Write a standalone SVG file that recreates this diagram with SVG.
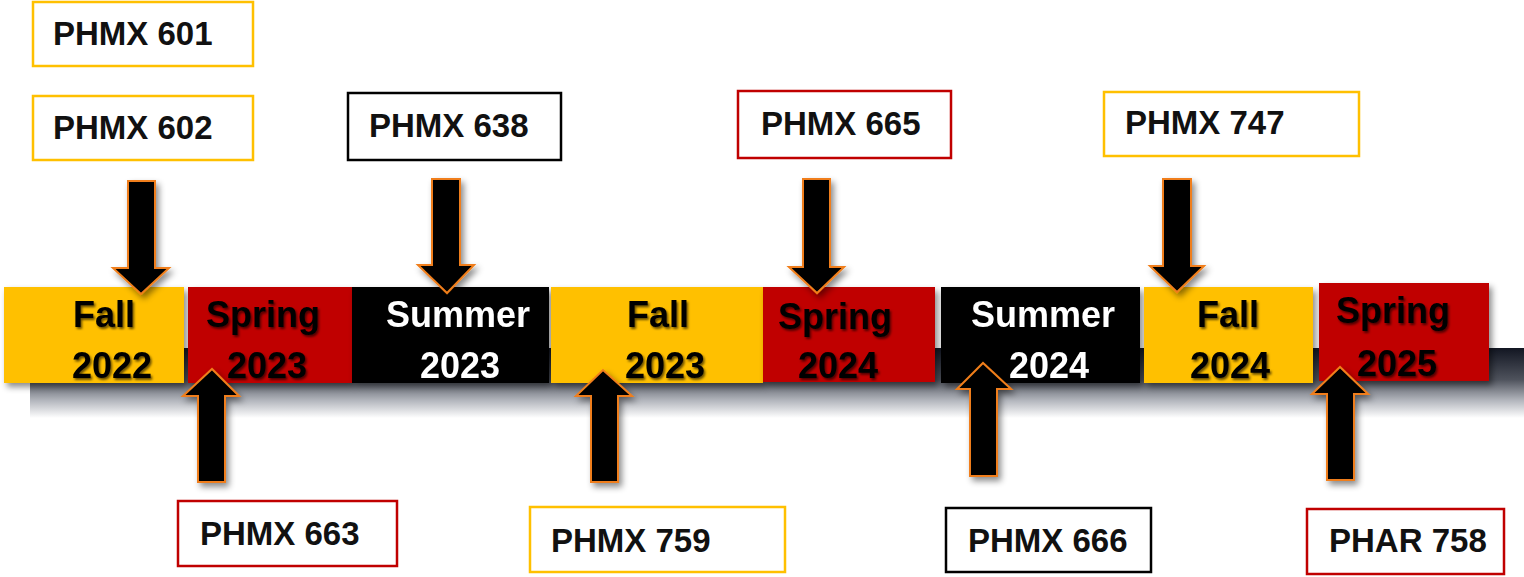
<svg xmlns="http://www.w3.org/2000/svg" width="1524" height="577" viewBox="0 0 1524 577">
<defs>
  <linearGradient id="band" x1="0" y1="0" x2="0" y2="1">
    <stop offset="0" stop-color="#121622"/>
    <stop offset="0.45" stop-color="#4e525c"/>
    <stop offset="0.75" stop-color="#b3b6bd"/>
    <stop offset="1" stop-color="#ffffff"/>
  </linearGradient>
  <filter id="sh" x="-20%" y="-20%" width="150%" height="150%">
    <feDropShadow dx="3" dy="4" stdDeviation="3" flood-color="#000" flood-opacity="0.45"/>
  </filter>
  <filter id="tsh" x="-10%" y="-10%" width="130%" height="140%">
    <feDropShadow dx="1.5" dy="2" stdDeviation="1.2" flood-color="#000" flood-opacity="0.6"/>
  </filter>
  <style>
    .lbl{font-family:"Liberation Sans",Arial,sans-serif;font-weight:bold;font-size:33px;fill:#111}
    .box{fill:#fff;stroke-width:2.5}
    .gold{stroke:#FFC000}
    .red{stroke:#C00000}
    .blk{stroke:#000}
    .season{font-family:"Liberation Sans",Arial,sans-serif;font-weight:bold;font-size:36px;text-anchor:middle}
    .dk{fill:#000}
    .wh{fill:#fff}
    .arrow{fill:#000;stroke:#F07E1A;stroke-width:2;stroke-linejoin:miter}
  </style>
</defs>
<rect x="0" y="0" width="1524" height="577" fill="#fff"/>
<rect x="30" y="348" width="1494" height="70" fill="url(#band)"/>

<g id="seasons">
  <g id="fall2022" filter="url(#sh)">
    <rect x="4" y="287" width="180" height="96" fill="#FFC000"/>
    <g filter="url(#tsh)"><text class="season dk" x="104" y="327">Fall</text><text class="season dk" x="112" y="378">2022</text></g>
  </g>
  <g id="spring2023" filter="url(#sh)">
    <rect x="188" y="287" width="164" height="96" fill="#C00000"/>
    <g filter="url(#tsh)"><text class="season dk" x="263" y="327">Spring</text><text class="season dk" x="267" y="378">2023</text></g>
  </g>
  <g id="summer2023" filter="url(#sh)">
    <rect x="352" y="287" width="197" height="96" fill="#000"/>
    <text class="season wh" x="458" y="327">Summer</text><text class="season wh" x="460" y="378">2023</text>
  </g>
  <g id="fall2023" filter="url(#sh)">
    <rect x="551" y="287" width="212" height="96" fill="#FFC000"/>
    <g filter="url(#tsh)"><text class="season dk" x="658" y="327">Fall</text><text class="season dk" x="665" y="378">2023</text></g>
  </g>
  <g id="spring2024" filter="url(#sh)">
    <rect x="763" y="287" width="172" height="95" fill="#C00000"/>
    <g filter="url(#tsh)"><text class="season dk" x="835" y="329">Spring</text><text class="season dk" x="838" y="378">2024</text></g>
  </g>
  <g id="summer2024" filter="url(#sh)">
    <rect x="941" y="287" width="199" height="96" fill="#000"/>
    <text class="season wh" x="1043" y="327">Summer</text><text class="season wh" x="1049" y="378">2024</text>
  </g>
  <g id="fall2024" filter="url(#sh)">
    <rect x="1144" y="287" width="169" height="96" fill="#FFC000"/>
    <g filter="url(#tsh)"><text class="season dk" x="1228" y="327">Fall</text><text class="season dk" x="1230" y="378">2024</text></g>
  </g>
  <g id="spring2025" filter="url(#sh)">
    <rect x="1319" y="283" width="170" height="98" fill="#C00000"/>
    <g filter="url(#tsh)"><text class="season dk" x="1393" y="323">Spring</text><text class="season dk" x="1397" y="376">2025</text></g>
  </g>
</g>

<g id="courses">
  <g id="phmx601"><rect class="box gold" x="33" y="2" width="220" height="64"/><text class="lbl" x="53" y="45">PHMX 601</text></g>
  <g id="phmx602"><rect class="box gold" x="33" y="96" width="220" height="64"/><text class="lbl" x="53" y="139">PHMX 602</text></g>
  <g id="phmx638"><rect class="box blk" x="348" y="93" width="213" height="67"/><text class="lbl" x="369" y="137">PHMX 638</text></g>
  <g id="phmx665"><rect class="box red" x="738" y="91" width="213" height="67"/><text class="lbl" x="761" y="135">PHMX 665</text></g>
  <g id="phmx747"><rect class="box gold" x="1104" y="92" width="255" height="64"/><text class="lbl" x="1125" y="134">PHMX 747</text></g>
  <g id="phmx663"><rect class="box red" x="178" y="501" width="219" height="65"/><text class="lbl" x="200" y="545">PHMX 663</text></g>
  <g id="phmx759"><rect class="box gold" x="530" y="507" width="255" height="65"/><text class="lbl" x="551" y="552">PHMX 759</text></g>
  <g id="phmx666"><rect class="box blk" x="946" y="508" width="205" height="64"/><text class="lbl" x="968" y="552">PHMX 666</text></g>
  <g id="phar758"><rect class="box red" x="1307" y="509" width="197" height="65"/><text class="lbl" x="1329" y="552">PHAR 758</text></g>
</g>

<g id="connectors" filter="url(#sh)">
  <path class="arrow" d="M128,181 H155 V268 H169 L141,294 L113,268 H128 Z"/>
  <path class="arrow" d="M432,179 H460 V265 H474 L447,293 L418,265 H432 Z"/>
  <path class="arrow" d="M803,179 H830 V267 H844 L817,293 L789,267 H803 Z"/>
  <path class="arrow" d="M1163,179 H1191 V266 H1204 L1177,292 L1150,266 H1163 Z"/>
  <path class="arrow" d="M198,482 H225 V396 H239 L212,369 L183,396 H198 Z"/>
  <path class="arrow" d="M591,482 H618 V396 H632 L603,370 L576,396 H591 Z"/>
  <path class="arrow" d="M970,476 H997 V389 H1011 L983,363 L957,389 H970 Z"/>
  <path class="arrow" d="M1327,480 H1354 V394 H1368 L1340,367 L1312,394 H1327 Z"/>
</g>
</svg>
